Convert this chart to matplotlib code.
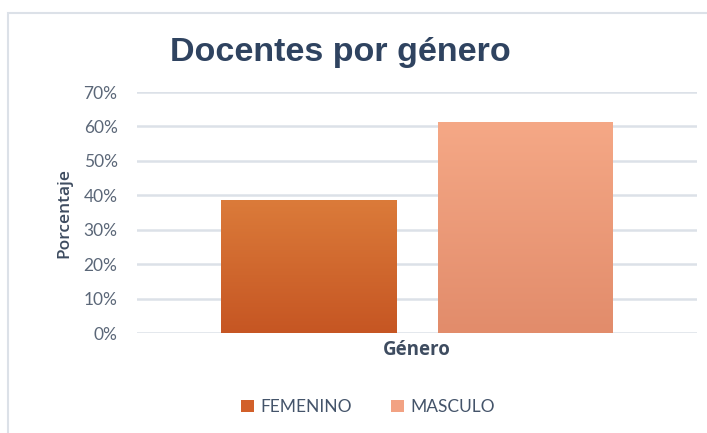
import matplotlib
matplotlib.use('Agg')
import matplotlib.pyplot as plt
import numpy as np
from matplotlib.colors import LinearSegmentedColormap
from matplotlib.patches import Rectangle, Patch
from matplotlib.ticker import PercentFormatter

categorias = ['FEMENINO', 'MASCULO']
porcentajes = [0.387, 0.613]
posiciones = [-0.62, 0.62]
colores_arriba = ['#DB7B3A', '#F5A886']
colores_abajo = ['#C65623', '#E28C6B']
colores_leyenda = ['#D2602A', '#F2A283']

fig = plt.figure(figsize=(7.07, 4.33), dpi=100)
ax = fig.add_axes([137/707, 1-333/433, 560/707, 241/433])

# marco del grafico
fig.patches.append(Rectangle((8/707, -0.02), 1.0, 1-13/433+0.02, transform=fig.transFigure,
                             fill=False, edgecolor='#DCE1E8', linewidth=1.5))

ancho = 1.0
grad = np.linspace(0, 1, 100).reshape(-1, 1)
for x, v, c1, c2 in zip(posiciones, porcentajes, colores_arriba, colores_abajo):
    cmap = LinearSegmentedColormap.from_list('g', [c2, c1])
    bar = ax.bar(x, v, width=ancho, color='none', zorder=3)[0]
    im = ax.imshow(grad, cmap=cmap, origin='lower', aspect='auto',
                   extent=[x - ancho/2, x + ancho/2, 0, v], zorder=3)
    im.set_clip_path(bar)

ax.set_xlim(-1.6, 1.6)
ax.set_ylim(0, 0.7)
ax.set_yticks(np.arange(0, 0.71, 0.1))
ax.yaxis.set_major_formatter(PercentFormatter(1.0, decimals=0))
ax.set_xticks([])
ax.grid(axis='y', color='#DCE1E8', linewidth=1.8, zorder=0)
ax.set_axisbelow(True)
for s in ax.spines.values():
    s.set_visible(False)
ax.tick_params(axis='y', length=0, pad=14, labelcolor='#5B6778', labelsize=12.5)
for t in ax.get_yticklabels():
    t.set_fontfamily('Lato')

ax.set_ylabel('Porcentaje', fontsize=12.5, fontweight='semibold', color='#3E4C60',
              family='Open Sans', labelpad=8)
ax.set_xlabel('Género', fontsize=13.5, fontweight='bold', color='#3E4C60',
              family='Open Sans', labelpad=5)

fig.text(0.482, 1-53/433, 'Docentes por género', ha='center', va='center',
         fontsize=24.5, fontweight='bold', color='#2F4360', family='Liberation Sans')

handles = [Patch(facecolor=c, edgecolor='none') for c in colores_leyenda]
leg = fig.legend(handles, categorias, loc='center', bbox_to_anchor=(368/707, 1-407/433),
                 ncol=2, frameon=False, fontsize=12.5, handlelength=0.75, handleheight=0.75,
                 columnspacing=2.2, handletextpad=0.4)
for t in leg.get_texts():
    t.set_color('#44546A')
    t.set_fontfamily('Lato')

fig.savefig('out.png', dpi=100, facecolor='white')
